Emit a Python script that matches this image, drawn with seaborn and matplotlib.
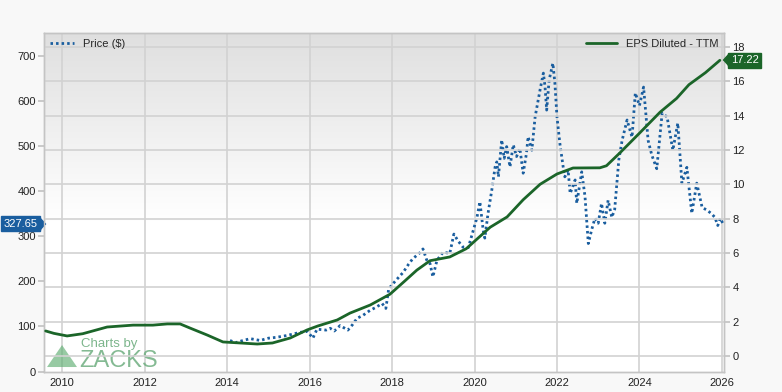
import numpy as np
import pandas as pd
import matplotlib
matplotlib.use("Agg")
import matplotlib.pyplot as plt
from matplotlib.patches import Polygon
import seaborn as sns

# price ($)
price_year = [2014.07, 2014.2, 2014.35, 2014.56, 2014.8, 2015.0, 2015.2, 2015.45, 2015.77, 2015.95,
              2016.08, 2016.18, 2016.4, 2016.5, 2016.6, 2016.74, 2016.93, 2017.05, 2017.15, 2017.3,
              2017.47, 2017.6, 2017.76, 2017.85, 2017.92, 2018.12, 2018.27, 2018.4, 2018.5, 2018.68,
              2018.75, 2018.85, 2018.92, 2018.99, 2019.09, 2019.24, 2019.4, 2019.5, 2019.6, 2019.72,
              2019.85, 2020.06, 2020.13, 2020.21, 2020.25, 2020.33, 2020.42, 2020.5, 2020.54, 2020.58,
              2020.66, 2020.72, 2020.78, 2020.86, 2020.94, 2021.02, 2021.1, 2021.18, 2021.26, 2021.3,
              2021.39, 2021.47, 2021.59, 2021.67, 2021.71, 2021.75, 2021.81, 2021.9, 2021.95, 2022.0,
              2022.07, 2022.15, 2022.19, 2022.27, 2022.32, 2022.44, 2022.48, 2022.6, 2022.68, 2022.76,
              2022.84, 2022.92, 2023.0, 2023.08, 2023.16, 2023.24, 2023.33, 2023.4, 2023.5, 2023.58,
              2023.7, 2023.82, 2023.9, 2024.0, 2024.1, 2024.21, 2024.3, 2024.42, 2024.55, 2024.67,
              2024.81, 2024.93, 2025.03, 2025.15, 2025.27, 2025.39, 2025.52, 2025.64, 2025.75, 2025.83,
              2025.9, 2025.96, 2026.03]
price_val = [69, 64, 68, 73, 69, 74, 76, 80, 87, 89,
             74, 94, 92, 96, 90, 102, 92, 105, 118, 125,
             136, 142, 151, 140, 184, 205, 220, 238, 250, 264,
             272, 245, 240, 210, 247, 265, 262, 305, 290, 276,
             275, 342, 377, 314, 296, 352, 403, 454, 465, 432,
             514, 473, 499, 454, 503, 477, 495, 440, 484, 521,
             491, 565, 625, 662, 632, 580, 647, 684, 639, 565,
             506, 454, 432, 447, 395, 425, 373, 443, 388, 284,
             314, 340, 329, 373, 329, 380, 342, 360, 470, 513,
             558, 520, 618, 590, 631, 513, 480, 450, 573, 565,
             491, 551, 418, 453, 351, 418, 364, 358, 350, 342,
             324, 340, 327.65]

# EPS diluted TTM
eps_year = [2009.6, 2009.8, 2010.12, 2010.5, 2011.09, 2011.72, 2012.2, 2012.55, 2012.86, 2013.1,
            2013.52, 2013.9, 2014.32, 2014.73, 2015.1, 2015.53, 2015.94, 2016.2, 2016.67, 2016.98,
            2017.47, 2017.95, 2018.3, 2018.6, 2018.92, 2019.4, 2019.8, 2020.38, 2020.79, 2021.18,
            2021.59, 2022.0, 2022.39, 2023.04, 2023.2, 2023.53, 2024.01, 2024.5, 2024.9, 2025.2,
            2025.6, 2025.95]
eps_val = [1.46, 1.32, 1.17, 1.3, 1.69, 1.8, 1.8, 1.87, 1.87, 1.63,
           1.22, 0.82, 0.76, 0.70, 0.76, 1.05, 1.52, 1.75, 2.1, 2.5,
           2.97, 3.6, 4.35, 5.0, 5.55, 5.77, 6.25, 7.5, 8.1, 9.1,
           10.0, 10.6, 10.95, 10.96, 11.08, 11.84, 13.0, 14.2, 15.0, 15.8,
           16.5, 17.22]

year_ticks = [2010, 2012, 2014, 2016, 2018, 2020, 2022, 2024, 2026]
price_ticks = [0, 100, 200, 300, 400, 500, 600, 700]
eps_ticks = [0, 2, 4, 6, 8, 10, 12, 14, 16, 18]

BLUE = "#1a5e9f"
GREEN = "#1b6529"
GRID = "#d2d2d2"

sns.set_theme(style="white")
plt.rcParams['font.family'] = ['Liberation Sans', 'DejaVu Sans']

price_df = pd.DataFrame({"year": price_year, "price": price_val})
eps_df = pd.DataFrame({"year": eps_year, "eps": eps_val})

fig = plt.figure(figsize=(7.82, 3.92), dpi=100, facecolor="#f8f8f8")
ax = fig.add_axes([0.0563, 0.051, 0.8695, 0.8648])
ax2 = ax.twinx()

# gradient background
grad = np.linspace(0, 1, 256).reshape(-1, 1)
grad = np.clip(grad * 1.8, 0, 1)
bg = np.dstack([0.875 + 0.125 * grad] * 3)
ax.imshow(bg, extent=[0, 1, 0, 1], transform=ax.transAxes, aspect="auto", zorder=0, origin="upper")

sns.lineplot(data=price_df, x="year", y="price", ax=ax, color=BLUE, lw=2.0,
             linestyle=(0, (0.9, 1.1)), zorder=3, label="Price ($)")
sns.lineplot(data=eps_df, x="year", y="eps", ax=ax2, color=GREEN, lw=2.0, zorder=3,
             label="EPS Diluted - TTM")

ax.set_xlim(2009.56, 2026.05)
ax.set_ylim(-1, 751)
ax2.set_ylim(-0.93, 18.81)
ax.set_xticks(year_ticks)
ax.set_yticks(price_ticks)
ax2.set_yticks(eps_ticks)
ax.set_xlabel("")
ax.set_ylabel("")
ax2.set_ylabel("")

# gridlines: vertical on years, horizontal on EPS ticks
ax.grid(False)
ax2.grid(False)
for yr in year_ticks:
    ax.axvline(yr, color=GRID, lw=1.2, zorder=1)
for e in eps_ticks:
    ax2.axhline(e, color=GRID, lw=1.2, zorder=1)

ax2.set_zorder(ax.get_zorder() + 1)
ax2.patch.set_visible(False)

for a in (ax, ax2):
    for s in a.spines.values():
        s.set_color("#c4c4c4")
        s.set_linewidth(1.0)
ax.tick_params(axis="y", length=4, color="#c4c4c4", labelsize=8, pad=2, labelcolor="#222222")
ax.tick_params(axis="x", length=0, labelsize=8, pad=4, labelcolor="#222222")
ax2.tick_params(axis="y", length=4, color="#c4c4c4", labelsize=8, pad=2, labelcolor="#222222")

# legends
h1, l1 = ax.get_legend_handles_labels()
h2, l2 = ax2.get_legend_handles_labels()
ax.get_legend().remove()
leg1 = ax2.legend(h1, l1, loc="upper left", frameon=False, fontsize=8, handlelength=2.2,
                  borderaxespad=0.2, borderpad=0.3)
ax2.add_artist(leg1)
ax2.legend(h2, l2, loc="upper right", frameon=False, fontsize=8, handlelength=2.8,
           borderaxespad=0.2, borderpad=0.3)

# last-value tags (box + small pointer)
ytr = ax.get_yaxis_transform()
ytr2 = ax2.get_yaxis_transform()
ax.text(-0.0095, price_val[-1], f"{price_val[-1]:.2f}", transform=ytr,
        ha="right", va="center", color="white", fontsize=8, zorder=10, clip_on=False,
        bbox=dict(boxstyle="square,pad=0.22", fc=BLUE, ec=BLUE))
ax.plot([-0.0062], [price_val[-1]], transform=ytr, marker=[(0, -1), (0, 1), (0.9, 0)],
        ms=8.5, color=BLUE, clip_on=False, zorder=10)
ax2.text(1.0098, eps_val[-1], f"{eps_val[-1]:.2f}", transform=ytr2,
         ha="left", va="center", color="white", fontsize=8, zorder=10, clip_on=False,
         bbox=dict(boxstyle="square,pad=0.22", fc=GREEN, ec=GREEN))
ax2.plot([1.0066], [eps_val[-1]], transform=ytr2, marker=[(0, -1), (0, 1), (-0.9, 0)],
         ms=8.5, color=GREEN, clip_on=False, zorder=10)

# watermark
ax.add_patch(Polygon([(0.0044, 0.0147), (0.0485, 0.0147), (0.0265, 0.0796)], closed=True,
                     transform=ax.transAxes, fc="#5fae72", ec="none", alpha=0.65, zorder=2))
ax.text(0.0544, 0.0737, "Charts by", transform=ax.transAxes, fontsize=9.5, color="#6fae80",
        alpha=0.9, ha="left", va="baseline", zorder=2)
ax.text(0.052, 0.0147, "ZACKS", transform=ax.transAxes, fontsize=17, color="#6fae80",
        alpha=0.85, ha="left", va="baseline", zorder=2)

plt.savefig("out.png", dpi=100, facecolor=fig.get_facecolor())
